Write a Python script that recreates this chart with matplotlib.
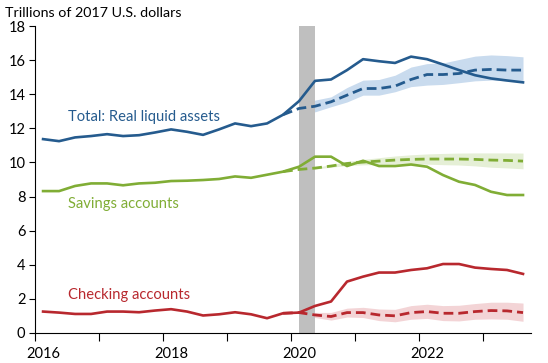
import numpy as np
import matplotlib
matplotlib.use("Agg")
import matplotlib.pyplot as plt

plt.rcParams["font.family"] = ["Lato", "DejaVu Sans"]

# quarterly, plotted at mid-quarter, 2016Q1 .. 2023Q3
quarters = 2016.125 + 0.25 * np.arange(31)

total = [11.37, 11.25, 11.47, 11.55, 11.66, 11.55, 11.6, 11.76, 11.94, 11.8,
         11.62, 11.94, 12.29, 12.13, 12.29, 12.8, 13.6, 14.79, 14.87, 15.42,
         16.06, 15.94, 15.84, 16.21, 16.06, 15.75, 15.42, 15.12, 14.93, 14.81, 14.7]
savings = [8.32, 8.32, 8.62, 8.77, 8.77, 8.66, 8.77, 8.81, 8.91, 8.93,
           8.97, 9.03, 9.18, 9.1, 9.28, 9.46, 9.75, 10.34, 10.34, 9.79,
           10.1, 9.79, 9.79, 9.88, 9.75, 9.26, 8.87, 8.68, 8.28, 8.09, 8.09]
checking = [1.25, 1.19, 1.11, 1.11, 1.25, 1.25, 1.21, 1.31, 1.39, 1.25,
            1.02, 1.09, 1.21, 1.09, 0.86, 1.15, 1.19, 1.58, 1.84, 3.01,
            3.3, 3.54, 3.54, 3.69, 3.79, 4.04, 4.04, 3.83, 3.75, 3.69, 3.46]

# counterfactual paths (from 2019Q4 for the dashed lines, bands from 2020Q1)
cf_start = 15
total_cf = [12.8, 13.17, 13.3, 13.56, 13.95, 14.34, 14.34, 14.48, 14.87, 15.16,
            15.16, 15.22, 15.42, 15.46, 15.42, 15.42]
total_hi = [13.27, 13.66, 13.85, 14.4, 14.83, 14.87, 15.12, 15.6, 15.8, 15.84,
            16.04, 16.24, 16.31, 16.27, 16.2]
total_lo = [13.07, 12.97, 13.27, 13.55, 13.95, 13.95, 14.15, 14.45, 14.54, 14.58,
            14.68, 14.79, 14.83, 14.79, 14.73]

savings_cf = [9.46, 9.59, 9.67, 9.79, 9.94, 10.02, 10.08, 10.14, 10.18, 10.2,
              10.2, 10.2, 10.18, 10.14, 10.12, 10.08]
savings_hi = [9.62, 9.72, 9.86, 10.06, 10.18, 10.28, 10.38, 10.45, 10.5, 10.53,
              10.55, 10.56, 10.56, 10.56, 10.55]
savings_lo = [9.56, 9.62, 9.72, 9.82, 9.86, 9.88, 9.9, 9.91, 9.9, 9.87,
              9.85, 9.8, 9.72, 9.68, 9.63]

checking_cf = [1.15, 1.19, 1.05, 0.96, 1.19, 1.19, 1.05, 1.0, 1.19, 1.25,
               1.15, 1.15, 1.25, 1.31, 1.29, 1.19]
checking_hi = [1.22, 1.2, 1.2, 1.45, 1.5, 1.4, 1.38, 1.6, 1.68, 1.6,
               1.62, 1.72, 1.8, 1.8, 1.75]
checking_lo = [1.16, 0.9, 0.75, 0.93, 0.9, 0.72, 0.65, 0.8, 0.85, 0.72,
               0.7, 0.8, 0.82, 0.8, 0.68]

recession = (2020.125, 2020.375)
years = [2016, 2017, 2018, 2019, 2020, 2021, 2022, 2023]
year_labels = ["2016", "", "2018", "", "2020", "", "2022", ""]

blue = "#255b8e"
green = "#80ad35"
red = "#b8282e"
colors = [blue, green, red]
bands = ["#c9dbee", "#e5efd6", "#f3d4d6"]

fig = plt.figure(figsize=(5.48, 3.63), dpi=100)
ax = fig.add_axes([0.064, 0.083, 0.905, 0.845])

ax.axvspan(recession[0], recession[1], color="#bfbfbf", lw=0, zorder=2)

x_cf = quarters[cf_start:]
x_band = quarters[cf_start + 1:]
series = [(total, total_cf, total_hi, total_lo),
          (savings, savings_cf, savings_hi, savings_lo),
          (checking, checking_cf, checking_hi, checking_lo)]
for (act, cf, hi, lo), c, b in zip(series, colors, bands):
    ax.fill_between(x_band, lo, hi, color=b, lw=0, zorder=1)
    ax.plot(x_cf, cf, color=c, lw=2.0, ls=(0, (3.5, 1.8)), zorder=3)
    ax.plot(quarters, act, color=c, lw=1.9, zorder=4)

ax.text(2016.52, 12.66, "Total: Real liquid assets", color=blue, fontsize=10.6, va="center")
ax.text(2016.52, 7.56, "Savings accounts", color=green, fontsize=10.6, va="center")
ax.text(2016.52, 2.23, "Checking accounts", color=red, fontsize=10.6, va="center")

ax.set_xlim(2016, 2023.75)
ax.set_ylim(0, 18)
ax.set_yticks(range(0, 19, 2))
ax.set_xticks(years)
ax.set_xticklabels([])
ax.set_xticks([y + 0.13 for y in years], minor=True)
ax.set_xticklabels(year_labels, minor=True)
ax.tick_params(axis="x", which="minor", length=0, pad=10, labelsize=10.5)
ax.tick_params(axis="x", which="major", length=6, width=0.8, direction="out")
ax.tick_params(axis="y", length=4, width=0.8, direction="out", labelsize=10.5, pad=3)
for s in ["top", "right"]:
    ax.spines[s].set_visible(False)
ax.spines["left"].set_linewidth(0.8)
ax.spines["bottom"].set_linewidth(0.8)

fig.text(0.009, 0.965, "Trillions of 2017 U.S. dollars", fontsize=10.3, va="center")

fig.savefig("out.png", dpi=100)
